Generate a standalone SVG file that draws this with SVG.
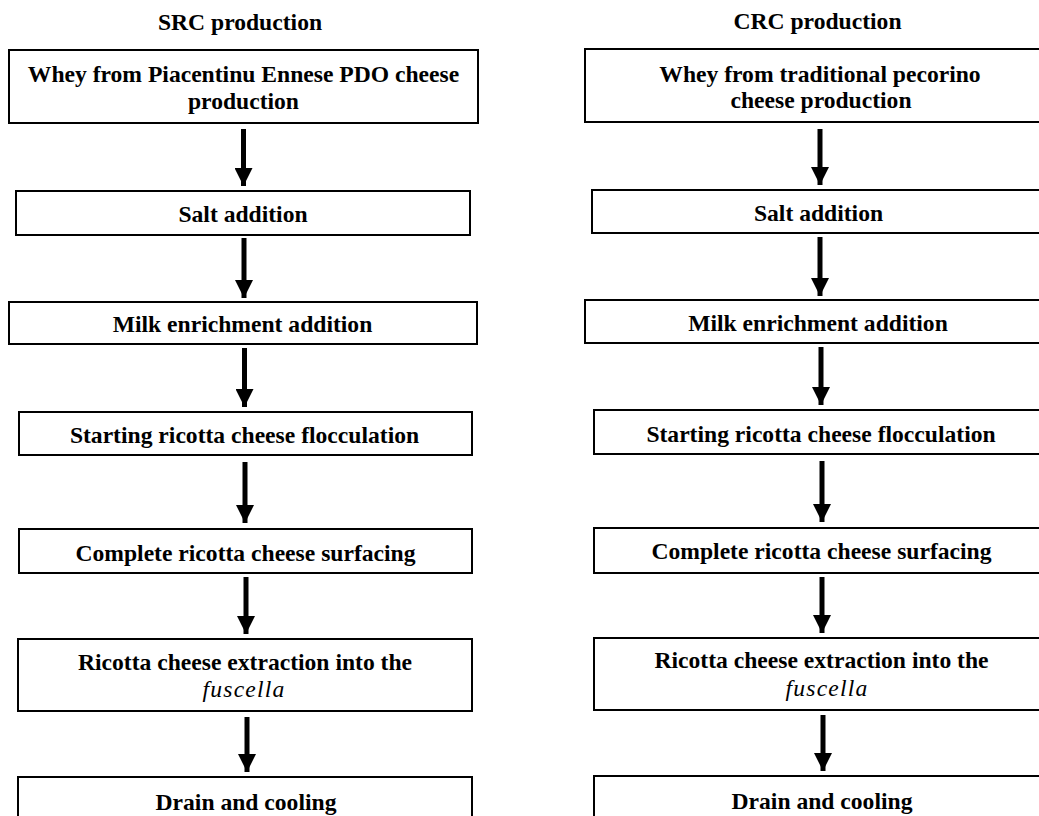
<svg xmlns="http://www.w3.org/2000/svg" width="1039" height="816" viewBox="0 0 1039 816">
<style>
.bg{fill:#ffffff}
.box{fill:#ffffff;stroke:#000000;stroke-width:2}
.t{font-family:'Liberation Serif','Times New Roman',Times,serif;font-weight:bold;font-size:23.6px;fill:#000000;text-anchor:middle}
.i{font-style:italic;font-weight:normal;letter-spacing:1.2px}
.arr{stroke:#000000;stroke-width:5;fill:none}
</style>
<defs>
<marker id="ah" markerUnits="userSpaceOnUse" markerWidth="18" markerHeight="18" viewBox="0 0 18 18" refX="18" refY="9" orient="auto">
<path d="M0,0 L18,9 L0,18 Z" fill="#000000"/>
</marker>
</defs>
<rect class="bg" x="0" y="0" width="1039" height="816"/>

<g id="title-src"><text class="t" x="240" y="30">SRC production</text></g>
<g id="title-crc"><text class="t" x="817.5" y="29">CRC production</text></g>

<g id="src-1"><rect class="box" x="9" y="50" width="469" height="73"/>
<text class="t" x="243.5" y="82">Whey from Piacentinu Ennese PDO cheese</text>
<text class="t" x="243.5" y="109">production</text></g>
<g id="src-2"><rect class="box" x="16" y="191" width="454" height="44"/>
<text class="t" x="243" y="222">Salt addition</text></g>
<g id="src-3"><rect class="box" x="9" y="302" width="468" height="42"/>
<text class="t" x="242.5" y="332">Milk enrichment addition</text></g>
<g id="src-4"><rect class="box" x="19" y="412" width="453" height="43"/>
<text class="t" x="244.5" y="443">Starting ricotta cheese flocculation</text></g>
<g id="src-5"><rect class="box" x="19" y="529" width="453" height="44"/>
<text class="t" x="245.5" y="561">Complete ricotta cheese surfacing</text></g>
<g id="src-6"><rect class="box" x="18" y="639" width="454" height="72"/>
<text class="t" x="245" y="670">Ricotta cheese extraction into the</text>
<text class="t i" x="244" y="697">fuscella</text></g>
<g id="src-7"><rect class="box" x="18" y="777" width="454" height="60"/>
<text class="t" x="246" y="810">Drain and cooling</text></g>

<g id="crc-1"><rect class="box" x="585" y="49" width="470" height="73"/>
<text class="t" x="820" y="82">Whey from traditional pecorino</text>
<text class="t" x="821" y="108">cheese production</text></g>
<g id="crc-2"><rect class="box" x="592" y="190" width="470" height="43"/>
<text class="t" x="818.5" y="221">Salt addition</text></g>
<g id="crc-3"><rect class="box" x="585" y="300" width="470" height="43"/>
<text class="t" x="818" y="331">Milk enrichment addition</text></g>
<g id="crc-4"><rect class="box" x="594" y="410" width="470" height="44"/>
<text class="t" x="821" y="442">Starting ricotta cheese flocculation</text></g>
<g id="crc-5"><rect class="box" x="594" y="528" width="470" height="45"/>
<text class="t" x="821.5" y="559">Complete ricotta cheese surfacing</text></g>
<g id="crc-6"><rect class="box" x="594" y="638" width="470" height="72"/>
<text class="t" x="821.5" y="668">Ricotta cheese extraction into the</text>
<text class="t i" x="827" y="696">fuscella</text></g>
<g id="crc-7"><rect class="box" x="594" y="776" width="470" height="60"/>
<text class="t" x="822" y="809">Drain and cooling</text></g>

<g id="connectors">
<line class="arr" x1="243.5" y1="129" x2="243.5" y2="186" marker-end="url(#ah)"/>
<line class="arr" x1="244" y1="238" x2="244" y2="298" marker-end="url(#ah)"/>
<line class="arr" x1="244.5" y1="348" x2="244.5" y2="407" marker-end="url(#ah)"/>
<line class="arr" x1="245" y1="462" x2="245" y2="523" marker-end="url(#ah)"/>
<line class="arr" x1="246" y1="577" x2="246" y2="634" marker-end="url(#ah)"/>
<line class="arr" x1="247" y1="717" x2="247" y2="772" marker-end="url(#ah)"/>
<line class="arr" x1="820" y1="129" x2="820" y2="185" marker-end="url(#ah)"/>
<line class="arr" x1="820" y1="237" x2="820" y2="296" marker-end="url(#ah)"/>
<line class="arr" x1="821" y1="347" x2="821" y2="405" marker-end="url(#ah)"/>
<line class="arr" x1="822" y1="461" x2="822" y2="522" marker-end="url(#ah)"/>
<line class="arr" x1="822" y1="577" x2="822" y2="633" marker-end="url(#ah)"/>
<line class="arr" x1="823" y1="715" x2="823" y2="771" marker-end="url(#ah)"/>
</g>
</svg>
